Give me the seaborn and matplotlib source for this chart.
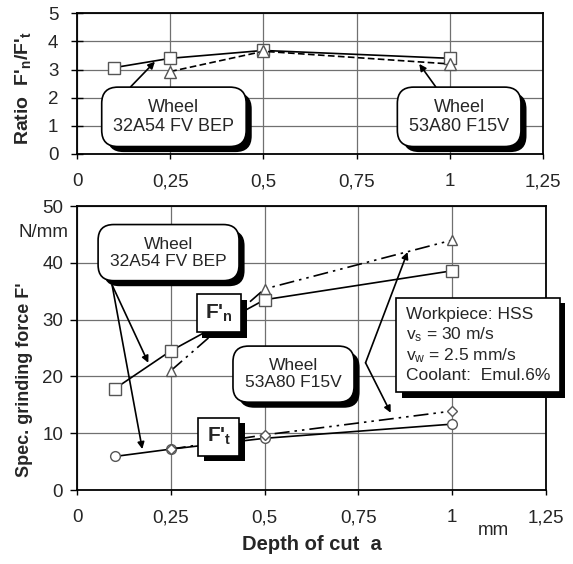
import matplotlib
matplotlib.use("Agg")
import matplotlib.pyplot as plt
import matplotlib.patheffects as pe
import seaborn as sns
import pandas as pd

# ---------------- data ----------------
x_32 = [0.1, 0.25, 0.5, 1.0]
x_53 = [0.25, 0.5, 1.0]
ratio_32 = [3.07, 3.4, 3.68, 3.4]
ratio_53 = [2.93, 3.65, 3.2]
fn_32 = [17.8, 24.5, 33.5, 38.6]
fn_53 = [21.0, 35.4, 44.0]
ft_32 = [5.9, 7.2, 9.1, 11.6]
ft_53 = [7.2, 9.7, 13.9]

xticks = [0, 0.25, 0.5, 0.75, 1.0, 1.25]
xtick_labels = ["0", "0,25", "0,5", "0,75", "1", "1,25"]
yticks_top = [0, 1, 2, 3, 4, 5]
yticks_bot = [0, 10, 20, 30, 40, 50]

sns.set_style("white")
plt.rcParams["font.family"] = ["Liberation Sans", "DejaVu Sans"]
plt.rcParams["mathtext.fontset"] = "custom"
plt.rcParams["mathtext.rm"] = "Liberation Sans"
plt.rcParams["mathtext.it"] = "Liberation Sans:italic"
plt.rcParams["mathtext.bf"] = "Liberation Sans:bold"
plt.rcParams["mathtext.default"] = "regular"

fig = plt.figure(figsize=(5.73, 5.64), dpi=100)
ax1 = fig.add_axes([0.1344, 0.7270, 0.8133, 0.2494])
ax2 = fig.add_axes([0.1344, 0.1312, 0.8185, 0.5035])

FS = 13.5
MEC = "#555555"


def style_axes(ax, yticks, ydir, ylen, ypad):
    ax.set_xlim(0, 1.25)
    ax.set_ylim(yticks[0], yticks[-1])
    ax.set_xticks(xticks)
    ax.set_xticklabels(xtick_labels)
    ax.set_yticks(yticks)
    ax.grid(True, color="#707070", lw=0.9)
    for s in ax.spines.values():
        s.set_visible(True)
        s.set_color("black")
        s.set_linewidth(1.3)
    ax.tick_params(axis="x", direction="out", length=3.5, width=1, pad=10.5,
                   labelsize=FS, color="black", bottom=True)
    ax.tick_params(axis="y", direction=ydir, length=ylen, width=1, pad=ypad,
                   labelsize=FS, color="black", left=True)
    ax.set_axisbelow(True)


def line(ax, xs, ys, marker, ms, ls):
    df = pd.DataFrame({"x": xs, "y": ys})
    sns.lineplot(data=df, x="x", y="y", ax=ax, color="black", lw=1.2,
                 linestyle=ls, marker=marker, markersize=ms,
                 markerfacecolor="white", markeredgecolor=MEC,
                 markeredgewidth=1.0, legend=False, zorder=3)


dashdotdot = (0, (9, 3, 1.5, 3, 1.5, 3))

arrow_kw = dict(arrowstyle="-|>", color="black", lw=1.2,
                mutation_scale=10, shrinkA=0, shrinkB=0)
shadow = [pe.SimplePatchShadow(offset=(4, -4), shadow_rgbFace="black",
                               alpha=1.0), pe.Normal()]


def box(ax, x, y, s, rounded=True, bold=False, ha="center", fs=12.5,
        pad=0.6, ls=1.15):
    if rounded:
        bs = "round,pad=%.2f,rounding_size=0.9" % pad
    else:
        bs = "square,pad=%.2f" % pad
    t = ax.text(x, y, s, ha=ha, va="center", fontsize=fs,
                fontweight="bold" if bold else "normal",
                multialignment=ha, zorder=6, linespacing=ls,
                bbox=dict(boxstyle=bs, fc="white", ec="black", lw=1.2))
    t.get_bbox_patch().set_path_effects(shadow)
    return t


def arrow(ax, start, end):
    ax.annotate("", xy=end, xytext=start, arrowprops=arrow_kw, zorder=5)


# ---------------- top panel ----------------
line(ax1, x_32, ratio_32, "s", 9, "-")
line(ax1, x_53, ratio_53, "^", 8, (0, (4, 2)))
style_axes(ax1, yticks_top, "inout", 9, 9)
ax1.set_xlabel("")
ax1.set_ylabel(r"Ratio  F'$\mathbf{_n}$/F'$\mathbf{_t}$", fontsize=14,
               fontweight="bold")
ax1.yaxis.set_label_coords(-0.094, 0.47)

arrow(ax1, (0.144, 2.39), (0.209, 3.28))
arrow(ax1, (0.962, 2.39), (0.918, 3.2))
box(ax1, 0.26, 1.32, "Wheel\n32A54 FV BEP", fs=13, pad=0.65)
box(ax1, 1.025, 1.32, "Wheel\n53A80 F15V", fs=13, pad=0.65)

# ---------------- bottom panel ----------------
line(ax2, x_32, fn_32, "s", 8, "-")
line(ax2, x_53, fn_53, "^", 7, dashdotdot)
line(ax2, x_32, ft_32, "o", 7, "-")
line(ax2, x_53, ft_53, "D", 5, dashdotdot)
style_axes(ax2, yticks_bot, "out", 5, 5)
ax2.set_xlabel("Depth of cut  a", fontsize=14.5, fontweight="bold",
               labelpad=6)
ax2.set_ylabel("Spec. grinding force F'", fontsize=13, fontweight="bold")
ax2.yaxis.set_label_coords(-0.094, 0.39)

arrow(ax2, (0.0935, 36.1), (0.19, 22.4))
arrow(ax2, (0.0935, 36.1), (0.174, 7.2))
arrow(ax2, (0.769, 22.4), (0.881, 41.9))
arrow(ax2, (0.769, 22.4), (0.836, 13.6))
box(ax2, 0.244, 41.8, "Wheel\n32A54 FV BEP", pad=0.7)
box(ax2, 0.577, 20.4, "Wheel\n53A80 F15V", pad=0.7)
box(ax2, 0.378, 31.1, r"F'$\mathbf{_n}$", rounded=False, bold=True, fs=15,
    pad=0.4)
box(ax2, 0.378, 9.4, r"F'$\mathbf{_t}$", rounded=False, bold=True, fs=15,
    pad=0.4)
box(ax2, 0.876, 25.5,
    "Workpiece: HSS\nv$_s$ = 30 m/s\nv$_w$ = 2.5 mm/s\nCoolant:  Emul.6%",
    rounded=False, ha="left", pad=0.55, ls=1.2)

ax2.text(-0.024, 45.4, "N/mm", ha="right", va="center", fontsize=FS,
         clip_on=False)
ax2.text(1.111, -7.2, "mm", ha="center", va="center", fontsize=FS,
         clip_on=False)

fig.savefig("out.png", dpi=100)
